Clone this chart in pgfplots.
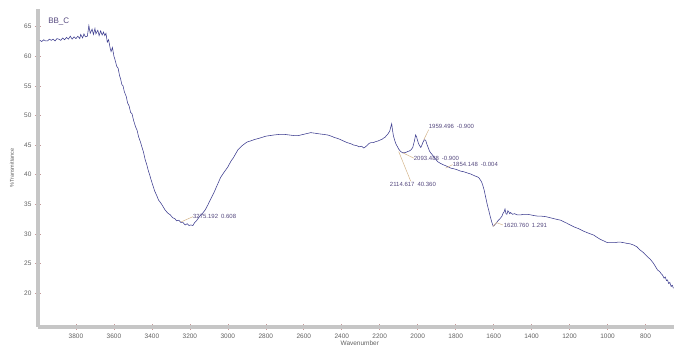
\documentclass[border=0pt]{standalone}
\usepackage{fontspec}
\setmainfont{Liberation Sans}
\usepackage{pgfplots}
\pgfplotsset{compat=1.18}

\definecolor{trace}{HTML}{3A3A8E}
\definecolor{axisgray}{HTML}{C6C6C6}
\definecolor{tickpink}{HTML}{C49A9A}
\definecolor{annot}{HTML}{54487E}
\definecolor{leader}{HTML}{D4B48A}

% FTIR spectrum, sample BB_C
\pgfplotstableread{
w v
3990 62.7
3980 62.5
3970 62.8
3960 62.6
3950 62.6
3940 62.9
3930 62.7
3920 62.9
3910 62.6
3900 63.0
3890 62.9
3880 62.7
3870 63.1
3860 62.8
3850 63.2
3840 62.9
3830 63.4
3820 62.9
3810 63.3
3800 63.0
3790 63.4
3780 63.0
3775 63.7
3765 63.1
3758 63.8
3750 63.3
3740 63.4
3732 65.2
3725 63.9
3715 64.6
3708 63.7
3700 64.7
3695 63.8
3685 64.4
3678 63.5
3670 64.3
3662 63.6
3655 64.1
3648 63.5
3642 63.9
3635 62.4
3628 62.8
3620 61.4
3615 60.8
3608 61.5
3600 60.0
3595 59.5
3585 58.3
3578 58.0
3570 56.7
3565 56.2
3558 55.2
3552 55.0
3545 54.0
3535 53.2
3528 52.1
3520 51.6
3512 50.5
3505 50.3
3495 49.0
3485 48.0
3478 47.5
3470 46.4
3460 45.5
3452 44.6
3445 43.9
3436 42.6
3428 41.8
3420 40.8
3412 40.0
3405 39.2
3395 38.2
3385 37.2
3375 36.5
3365 35.7
3355 35.3
3345 34.8
3330 34.0
3316 33.5
3303 33.2
3290 32.7
3280 32.6
3270 32.2
3258 32.3
3247 31.9
3236 31.9
3225 31.5
3214 31.7
3205 31.4
3195 31.5
3184 31.4
3175 31.9
3165 32.2
3150 32.9
3142 33.2
3130 33.6
3120 34.0
3105 34.9
3090 35.9
3074 36.9
3055 38.3
3037 39.6
3020 40.4
3000 41.3
2985 42.2
2970 42.9
2947 44.2
2925 44.9
2900 45.5
2880 45.7
2863 45.9
2830 46.2
2800 46.5
2780 46.6
2758 46.7
2730 46.8
2700 46.8
2675 46.7
2650 46.6
2630 46.6
2616 46.7
2590 46.9
2563 47.1
2540 47.0
2520 46.9
2495 46.8
2474 46.7
2455 46.5
2440 46.3
2420 46.1
2405 45.9
2385 45.6
2370 45.4
2350 45.2
2337 45.0
2320 44.9
2310 44.7
2295 44.8
2284 44.5
2275 44.7
2265 45.0
2255 45.3
2247 45.4
2235 45.4
2220 45.6
2208 45.7
2195 45.9
2187 46.0
2179 46.2
2172 46.3
2165 46.6
2158 46.8
2153 47.1
2148 47.3
2143 47.9
2137 48.6
2133 47.6
2128 46.6
2122 45.9
2116 45.3
2108 44.8
2100 44.3
2089 43.9
2080 43.7
2070 43.7
2060 43.8
2053 43.9
2044 44.0
2035 44.2
2026 44.6
2018 45.6
2011 46.7
2006 46.4
2001 45.8
1995 45.2
1988 44.8
1984 44.6
1979 44.9
1972 45.5
1965 45.9
1958 45.8
1950 45.0
1945 44.6
1938 44.0
1932 43.7
1924 43.4
1915 43.0
1905 42.6
1895 42.2
1880 41.9
1860 41.6
1845 41.4
1826 41.1
1810 41.0
1790 40.8
1775 40.6
1758 40.5
1740 40.3
1720 40.1
1700 39.8
1684 39.6
1676 39.4
1670 39.1
1664 38.8
1658 38.3
1650 37.4
1642 36.2
1634 35.0
1626 34.0
1620 33.2
1615 32.6
1610 32.0
1605 31.5
1601 31.3
1597 31.4
1593 31.6
1589 31.7
1582 32.0
1575 32.3
1568 32.5
1563 32.7
1556 33.0
1550 33.5
1545 33.7
1540 34.2
1535 33.4
1530 33.3
1525 33.9
1520 33.7
1515 33.4
1511 33.6
1500 33.3
1490 33.4
1475 33.2
1458 33.2
1440 33.3
1420 33.3
1405 33.2
1390 33.1
1370 33.0
1353 33.0
1325 32.9
1300 32.7
1275 32.5
1247 32.3
1215 31.8
1179 31.2
1155 30.9
1130 30.5
1100 30.1
1074 29.8
1055 29.4
1040 29.1
1020 28.8
1000 28.5
980 28.5
960 28.5
945 28.6
932 28.6
915 28.5
900 28.4
880 28.3
863 28.1
845 27.8
830 27.3
810 26.8
789 26.1
775 25.7
760 25.1
748 24.5
737 23.9
725 23.6
716 23.2
710 23.0
702 22.5
696 22.7
690 22.1
684 22.2
678 21.6
672 21.8
665 21.1
659 21.3
653 20.8
}\spectrum

\begin{document}
\begin{tikzpicture}[x=1pt,y=1pt]
\path[use as bounding box] (0,0) rectangle (674,347);
\begin{axis}[
  at={(38pt,20pt)}, anchor=south west,
  scale only axis, width=636pt, height=318pt,
  xmin=650, xmax=4000, x dir=reverse,
  ymin=14.25, ymax=68,
  axis x line*=bottom, axis y line*=left,
  axis line style={axisgray, line width=4pt, -},
  xtick={800,1000,...,3800}, ytick={20,25,...,65},
  minor x tick num=4,
  tick style={tickpink, line width=0.6pt},
  major tick length=6pt, minor tick length=3pt,
  tick align=center,
  /pgf/number format/assume math mode=true,
  /pgf/number format/1000 sep={},
  tick label style={font=\fontsize{6.5}{7}\selectfont, text=black!62},
  xlabel={Wavenumber},
  xlabel style={at={(axis description cs:0.4755,0)}, anchor=west, yshift=-16pt,
    inner sep=0pt, font=\fontsize{6.5}{7}\selectfont, text=black!62},
  ylabel={\%Transmittance},
  ylabel style={at={(axis description cs:0,0.5)}, anchor=center, yshift=26pt,
    inner sep=0pt, font=\fontsize{5.5}{6}\selectfont, text=black!62},
  clip=false,
]
\addplot[trace, line width=0.55pt] table[x=w, y=v] {\spectrum};

\node[anchor=west, text=annot, font=\fontsize{8}{9}\selectfont, inner sep=0pt]
  at (axis cs:3947,65.85) {BB\_C};

% peak-pick labels
\tikzset{pk/.style={anchor=west, text=annot, font=\fontsize{6}{7}\selectfont, inner sep=0pt}}
\draw[leader, line width=0.5pt] (axis cs:3247,32.0) -- (axis cs:3184,32.9);
\node[pk] at (axis cs:3184,33.0) {3275.192\enspace 0.608};
\draw[leader, line width=0.5pt] (axis cs:2100,43.9) -- (axis cs:2037,38.9);
\node[pk] at (axis cs:2147,38.4) {2114.617\enspace 40.360};
\draw[leader, line width=0.5pt] (axis cs:2079,43.7) -- (axis cs:2021,42.8);
\node[pk] at (axis cs:2021,42.7) {2093.488\enspace -0.900};
\draw[leader, line width=0.5pt] (axis cs:1968,45.9) -- (axis cs:1942,47.6);
\node[pk] at (axis cs:1942,48.1) {1959.496\enspace -0.900};
\draw[leader, line width=0.5pt] (axis cs:1853,41.1) -- (axis cs:1816,41.7);
\node[pk] at (axis cs:1816,41.8) {1854.148\enspace -0.004};
\draw[leader, line width=0.5pt] (axis cs:1605,31.2) -- (axis cs:1585,31.9) -- (axis cs:1552,31.5);
\node[pk] at (axis cs:1547,31.5) {1620.760\enspace 1.291};
\end{axis}
\end{tikzpicture}
\end{document}
